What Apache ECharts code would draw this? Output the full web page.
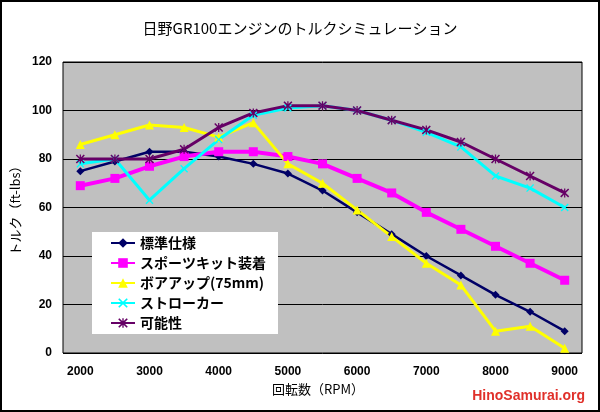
<!DOCTYPE html>
<html>
<head>
<meta charset="utf-8">
<script src="https://cdn.jsdelivr.net/npm/echarts@6/dist/echarts.min.js"></script>
<style>
html,body{margin:0;padding:0;background:#fff;}
#chart{width:600px;height:412px;}
</style>
</head>
<body>
<div id="chart"></div>
<script>
const categories = ['2000','2500','3000','3500','4000','4500','5000','5500','6000','6500','7000','7500','8000','8500','9000'];
const standard = [75,79,83,83,81,78,74,67,58,49,40,32,24,17,9];
const sportKit = [69,72,77,81,83,83,81,78,72,66,58,51,44,37,30];
const boreUp   = [86,90,94,93,89,95,78,70,59,48,37,28,9,11,2];
const stroker  = [78,80,63,76,88,98,101,102,100,96,91,85,73,68,60];
const potential= [80,80,80,84,93,99,102,102,100,96,92,87,80,73,66];
const seriesNames = ['標準仕様','スポーツキット装着','ボアアップ(75mm)','ストローカー','可能性'];

const xPath = 'path://M0,1.2L1.2,0L5,3.8L8.8,0L10,1.2L6.2,5L10,8.8L8.8,10L5,6.2L1.2,10L0,8.8L3.8,5Z';
const starPath = 'path://M0,1.2L1.2,0L5,3.8L8.8,0L10,1.2L6.2,5L10,8.8L8.8,10L5,6.2L1.2,10L0,8.8L3.8,5Z M4.3,0L5.7,0L5.7,10L4.3,10Z';

const chart = echarts.init(document.getElementById('chart'));
function mk(name, data, color, symbol, size, width){
  return {
    name: name, type: 'line', data: data,
    symbol: symbol, symbolSize: size,
    lineStyle: {color: color, width: width},
    itemStyle: {color: color},
    animation: false
  };
}
chart.setOption({
  backgroundColor: '#fff',
  animation: false,
  title: {
    text: '日野GR100エンジンのトルクシミュレーション',
    left: 'center', top: 16,
    textStyle: {fontFamily: 'Noto Sans CJK JP', fontSize: 15, fontWeight: 'normal', color: '#000'}
  },
  grid: {
    left: 63, top: 62, width: 519, height: 291,
    show: true, backgroundColor: '#c0c0c0', borderColor: '#000', borderWidth: 1
  },
  legend: {
    orient: 'vertical', left: 92, top: 232,
    backgroundColor: '#fff',
    padding: [4, 12, 4, 18],
    itemGap: 6, itemWidth: 24, itemHeight: 12,
    textStyle: {fontFamily: 'Noto Sans CJK JP', fontSize: 14, color: '#000', fontWeight: 'bold'},
    data: seriesNames
  },
  xAxis: {
    type: 'category', data: categories, boundaryGap: true,
    axisLine: {show: false}, axisTick: {show: false},
    axisLabel: {interval: 1, margin: 13, color: '#000', fontFamily: 'Liberation Sans', fontWeight: 'bold', fontSize: 12}
  },
  yAxis: {
    type: 'value', min: 0, max: 120, interval: 20,
    name: 'トルク（ft-lbs）', nameLocation: 'middle', nameGap: 39, nameRotate: 90,
    nameTextStyle: {fontFamily: 'Noto Sans CJK JP', fontSize: 13, color: '#000'},
    axisLine: {show: false}, axisTick: {show: false},
    axisLabel: {margin: 11, color: '#000', fontFamily: 'Liberation Sans', fontWeight: 'bold', fontSize: 12},
    splitLine: {lineStyle: {color: '#000', width: 1}}
  },
  graphic: [
    {type: 'rect', shape: {x: 1, y: 1, width: 598, height: 410}, style: {fill: 'none', stroke: '#000', lineWidth: 2}, silent: true},
    {type: 'text', left: 272, top: 383, style: {text: '回転数（RPM）', font: '13px "Noto Sans CJK JP"', fill: '#000'}},
    {type: 'text', right: 15, top: 389, style: {text: 'HinoSamurai.org', font: 'bold 14px "Liberation Sans"', fill: '#e0302a'}}
  ],
  series: [
    mk(seriesNames[0], standard, '#000066', 'diamond', 8, 2.5),
    mk(seriesNames[1], sportKit, '#ff00ff', 'rect', 9, 4),
    mk(seriesNames[2], boreUp, '#ffff00', 'triangle', 9, 3),
    mk(seriesNames[3], stroker, '#00ffff', xPath, 8, 3),
    mk(seriesNames[4], potential, '#660066', starPath, 9, 3)
  ]
});
</script>
</body>
</html>
